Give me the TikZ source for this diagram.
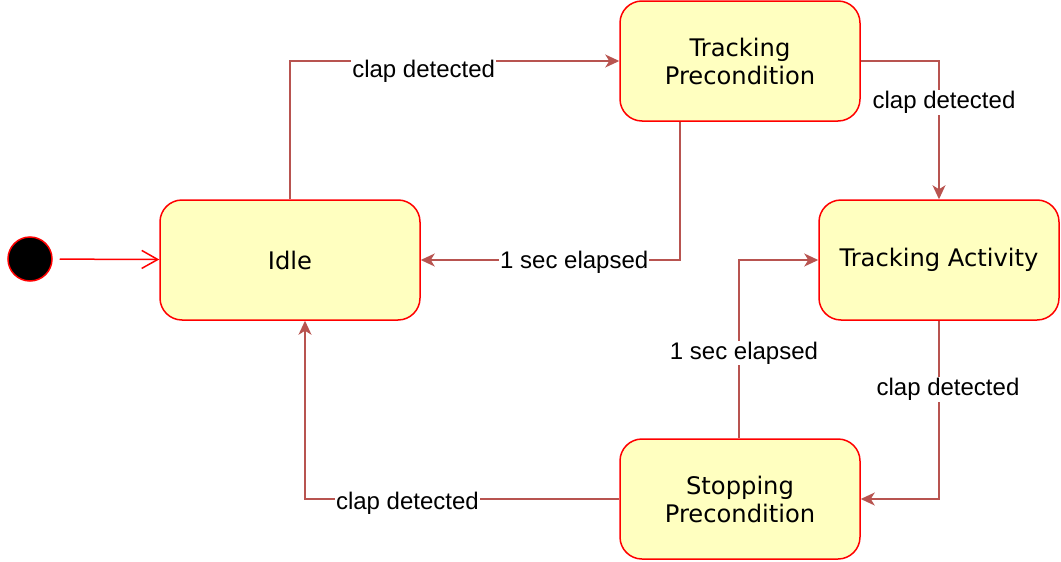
\documentclass[tikz,border=0pt]{standalone}
\usepackage{fontspec}
\setmainfont{DejaVu Sans}
\newfontfamily\lblfont{Liberation Sans}
\usepackage{tikz}
\usetikzlibrary{arrows.meta}

\definecolor{stateline}{HTML}{FF0000}
\definecolor{statefill}{HTML}{FFFFC0}
\definecolor{transline}{HTML}{B85450}

\begin{document}
\begin{tikzpicture}[x=1pt,y=-1pt]
  \tikzstyle{etat}=[draw=stateline, fill=statefill, line width=1.5pt, rounded corners=22pt,
    minimum width=240pt, minimum height=120pt, align=center, font=\fontsize{24.2}{28}\selectfont]
  \tikzstyle{depart}=[circle, draw=stateline, fill=black, line width=1.5pt, minimum size=44pt, inner sep=0pt]
  \tikzstyle{trans}=[draw=transline, line width=1.5pt, -{Stealth[length=14pt, width=13pt, inset=4pt]}]
  \tikzstyle{initfleche}=[draw=stateline, line width=1.5pt, shorten <=7pt,
    -{Straight Barb[length=16pt, width=18pt]}]
  \tikzstyle{lbl}=[fill=white, inner sep=1pt, text=black, font=\lblfont\fontsize{24}{28}\selectfont]
  \useasboundingbox (0,0) rectangle (1061,562);
  \node[depart] (init) at (30,259) {};
  \node[etat, minimum width=260pt] (idle) at (290,260) {Idle};
  \node[etat] (tpre) at (740,61) {Tracking\\Precondition};
  \node[etat] (tact) at (939,260) {Tracking Activity};
  \node[etat] (spre) at (740,499) {Stopping\\Precondition};
  \draw[initfleche] (init) -- (idle);
  \draw[trans] (idle.north) |- (tpre.west)
    node[lbl, pos=0.703, yshift=-10pt] {clap detected};
  \draw[trans] (tpre.east) -| (tact.north)
    node[lbl, pos=0.643, xshift=5pt, yshift=-2pt] {clap detected};
  \draw[trans] ([xshift=-60pt]tpre.south) |- (idle.east)
    node[lbl, pos=0.704, yshift=-2pt] {1 sec elapsed};
  \draw[trans] (tact.south) |- (spre.east)
    node[lbl, pos=0.187, xshift=9pt, yshift=-2pt] {clap detected};
  \draw[trans] ([xshift=-1pt]spre.north) |- (tact.west)
    node[lbl, pos=0.244, xshift=5pt, yshift=-2pt] {1 sec elapsed};
  \draw[trans] (spre.west) -| ([xshift=15pt]idle.south)
    node[lbl, pos=0.337, yshift=-4pt] {clap detected};
\end{tikzpicture}
\end{document}
